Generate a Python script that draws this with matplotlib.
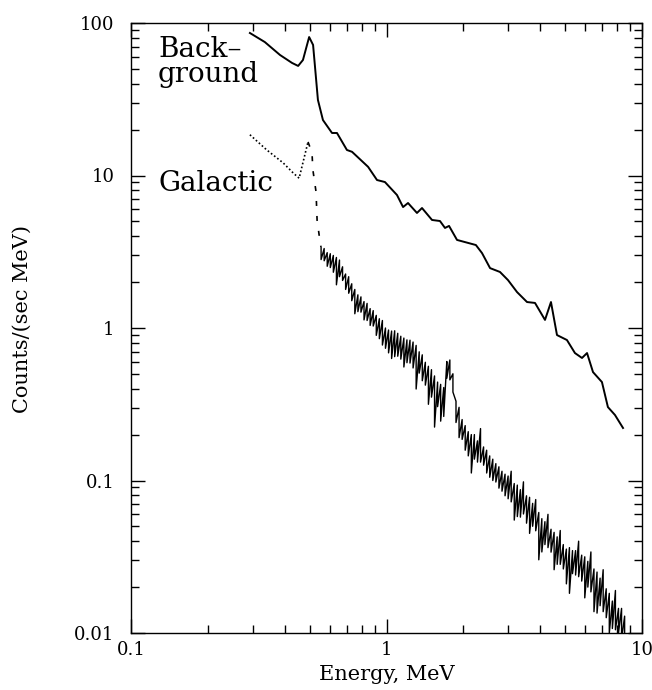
import numpy as np
import matplotlib
matplotlib.use("Agg")
import matplotlib.pyplot as plt
from matplotlib.ticker import LogLocator, FuncFormatter, NullFormatter

# Background spectrum (smooth solid curve)
bkg_e = [0.292, 0.334, 0.383, 0.427, 0.451, 0.471, 0.498, 0.516, 0.539, 0.564,
         0.612, 0.640, 0.700, 0.733, 0.847, 0.918, 0.986, 1.099, 1.161, 1.214,
         1.316, 1.377, 1.507, 1.619, 1.694, 1.757, 1.888, 2.238, 2.365, 2.543,
         2.781, 2.990, 3.243, 3.548, 3.813, 4.172, 4.403, 4.648, 5.084, 5.465,
         5.823, 6.094, 6.430, 6.970, 7.355, 7.837, 8.428]
bkg_c = [86.0, 75.0, 61.7, 54.7, 52.3, 57.2, 80.9, 71.8, 31.3, 23.1,
         19.0, 19.0, 14.7, 14.3, 11.4, 9.34, 9.06, 7.45, 6.21, 6.60,
         5.68, 6.12, 5.11, 5.03, 4.53, 4.67, 3.78, 3.50, 3.10, 2.47,
         2.33, 2.06, 1.72, 1.48, 1.46, 1.13, 1.48, 0.899, 0.834, 0.685,
         0.636, 0.685, 0.514, 0.442, 0.303, 0.269, 0.221]

# Galactic spectrum below the 511 keV peak (dotted) and the drop after it (sparse dashes)
gal_low_e = [0.292, 0.340, 0.394, 0.431, 0.455, 0.493]
gal_low_c = [18.5, 14.7, 12.1, 10.4, 9.6, 16.6]
gal_drop_e = [0.493, 0.511, 0.515, 0.530, 0.535, 0.545, 0.554]
gal_drop_c = [16.6, 14.1, 10.9, 7.8, 5.1, 4.07, 3.40]

# Galactic spectrum above 0.55 MeV: channel energies with top / bottom of the noise
gal_e = [0.5546, 0.5702, 0.5861, 0.6026, 0.6194, 0.6368, 0.6546, 0.6730, 0.6918, 0.7112,
         0.7311, 0.7516, 0.7727, 0.7943, 0.8166, 0.8395, 0.8630, 0.8872, 0.9120, 0.9376,
         0.9638, 0.9908, 1.0186, 1.0471, 1.0765, 1.1066, 1.1376, 1.1695, 1.2023, 1.2359,
         1.2706, 1.3062, 1.3428, 1.3804, 1.4191, 1.4588, 1.4997, 1.5417, 1.5849, 1.6293,
         1.6749, 1.7219, 1.7701, 1.8197, 1.8707, 1.9231, 1.9770, 2.0324, 2.0893, 2.1478,
         2.2080, 2.2699, 2.3335, 2.3988, 2.4660, 2.5351, 2.6062, 2.6792, 2.7542, 2.8314,
         2.9107, 2.9923, 3.0761, 3.1623, 3.2509, 3.3420, 3.4356, 3.5318, 3.6308, 3.7325,
         3.8371, 3.9446, 4.0551, 4.1687, 4.2855, 4.4055, 4.5290, 4.6559, 4.7863, 4.9204,
         5.0582, 5.1999, 5.3456, 5.4954, 5.6494, 5.8076, 5.9704, 6.1376, 6.3096, 6.4863,
         6.6681, 6.8549, 7.0469, 7.2444, 7.4473, 7.6560, 7.8705, 8.0910, 8.3176, 8.5507]
gal_hi = [3.37, 3.32, 3.12, 3.07, 2.99, 2.90, 2.79, 2.52, 2.26, 2.17,
          1.95, 1.79, 1.65, 1.60, 1.49, 1.45, 1.34, 1.30, 1.21, 1.15,
          1.12, 1.00, 0.970, 0.955, 0.959, 0.923, 0.883, 0.859, 0.836, 0.832,
          0.809, 0.769, 0.698, 0.667, 0.596, 0.561, 0.533, 0.485, 0.442, 0.427,
          0.407, 0.603, 0.617, 0.501, 0.331, 0.302, 0.251, 0.229, 0.209, 0.200,
          0.200, 0.182, 0.219, 0.166, 0.158, 0.145, 0.138, 0.129, 0.123, 0.115,
          0.110, 0.107, 0.115, 0.0955, 0.0933, 0.0871, 0.0980, 0.0794, 0.0776, 0.0708,
          0.0750, 0.0617, 0.0562, 0.0537, 0.0600, 0.0479, 0.0457, 0.0427, 0.0470, 0.0380,
          0.0355, 0.0363, 0.0347, 0.0347, 0.0400, 0.0324, 0.0316, 0.0295, 0.0340, 0.0263,
          0.0251, 0.0229, 0.0260, 0.0195, 0.0182, 0.0162, 0.0190, 0.0145, 0.0145, 0.0129]
gal_lo = [2.81, 2.76, 2.54, 2.49, 2.32, 1.92, 2.17, 2.05, 1.79, 1.69,
          1.51, 1.24, 1.28, 1.27, 1.13, 1.12, 1.04, 1.03, 0.895, 0.851,
          0.773, 0.736, 0.687, 0.631, 0.649, 0.653, 0.625, 0.555, 0.592, 0.589,
          0.547, 0.398, 0.506, 0.451, 0.422, 0.316, 0.352, 0.224, 0.305, 0.245,
          0.263, 0.468, 0.457, 0.380, 0.240, 0.191, 0.186, 0.158, 0.145, 0.112,
          0.138, 0.132, 0.132, 0.126, 0.112, 0.105, 0.100, 0.0977, 0.0891, 0.0851,
          0.0794, 0.0759, 0.0724, 0.0550, 0.0580, 0.0575, 0.0603, 0.0525, 0.0450, 0.0501,
          0.0468, 0.0302, 0.0340, 0.0380, 0.0363, 0.0339, 0.0260, 0.0282, 0.0282, 0.0263,
          0.0210, 0.0182, 0.0245, 0.0240, 0.0234, 0.0219, 0.0170, 0.0200, 0.0186, 0.0138,
          0.0135, 0.0151, 0.0138, 0.0126, 0.0100, 0.0107, 0.0105, 0.0100, 0.0091, 0.0089]

plt.rcParams['font.family'] = ['DejaVu Serif']

fig = plt.figure(figsize=(6.52, 6.90), dpi=100)
ax = fig.add_axes([131 / 652, 1 - 633 / 690, 511 / 652, 610 / 690])

ax.plot(bkg_e, bkg_c, color='black', lw=1.4)
ax.plot(gal_low_e, gal_low_c, color='black', lw=1.2, linestyle=(0, (1, 1.4)))
ax.plot(gal_drop_e, gal_drop_c, color='black', lw=1.2, linestyle=(0, (3, 6)))

# each channel as a vertical stroke from top to bottom, then on to the next top
px, py = [], []
for e, hi, lo in zip(gal_e, gal_hi, gal_lo):
    px += [e, e]
    py += [hi, lo]
ax.plot(px, py, color='black', lw=1.0)

ax.set_xscale('log')
ax.set_yscale('log')
ax.set_xlim(0.1, 10)
ax.set_ylim(0.01, 100)

fmt = FuncFormatter(lambda v, p: f"{v:g}")
for axis in (ax.xaxis, ax.yaxis):
    axis.set_major_locator(LogLocator(base=10))
    axis.set_minor_locator(LogLocator(base=10, subs=np.arange(2, 10)))
    axis.set_major_formatter(fmt)
    axis.set_minor_formatter(NullFormatter())

ax.tick_params(which='both', direction='in', top=True, right=True, width=1.0)
ax.tick_params(which='major', length=10)
ax.tick_params(which='minor', length=6)
ax.tick_params(axis='x', which='major', labelsize=13, pad=6)
ax.tick_params(axis='y', which='major', labelsize=13, pad=12)
for s in ax.spines.values():
    s.set_linewidth(1.0)

ax.set_xlabel('Energy, MeV', fontsize=15, labelpad=4)
fig.text(22 / 652, 1 - 319 / 690, 'Counts/(sec MeV)', rotation=90,
         fontsize=15, ha='center', va='center')

ax.text(0.053, 0.944, 'Back\u2013', transform=ax.transAxes, fontsize=20, va='baseline')
ax.text(0.053, 0.903, 'ground', transform=ax.transAxes, fontsize=20, va='baseline')
ax.text(0.053, 0.725, 'Galactic', transform=ax.transAxes, fontsize=20, va='baseline')

fig.savefig('out.png', dpi=100)
